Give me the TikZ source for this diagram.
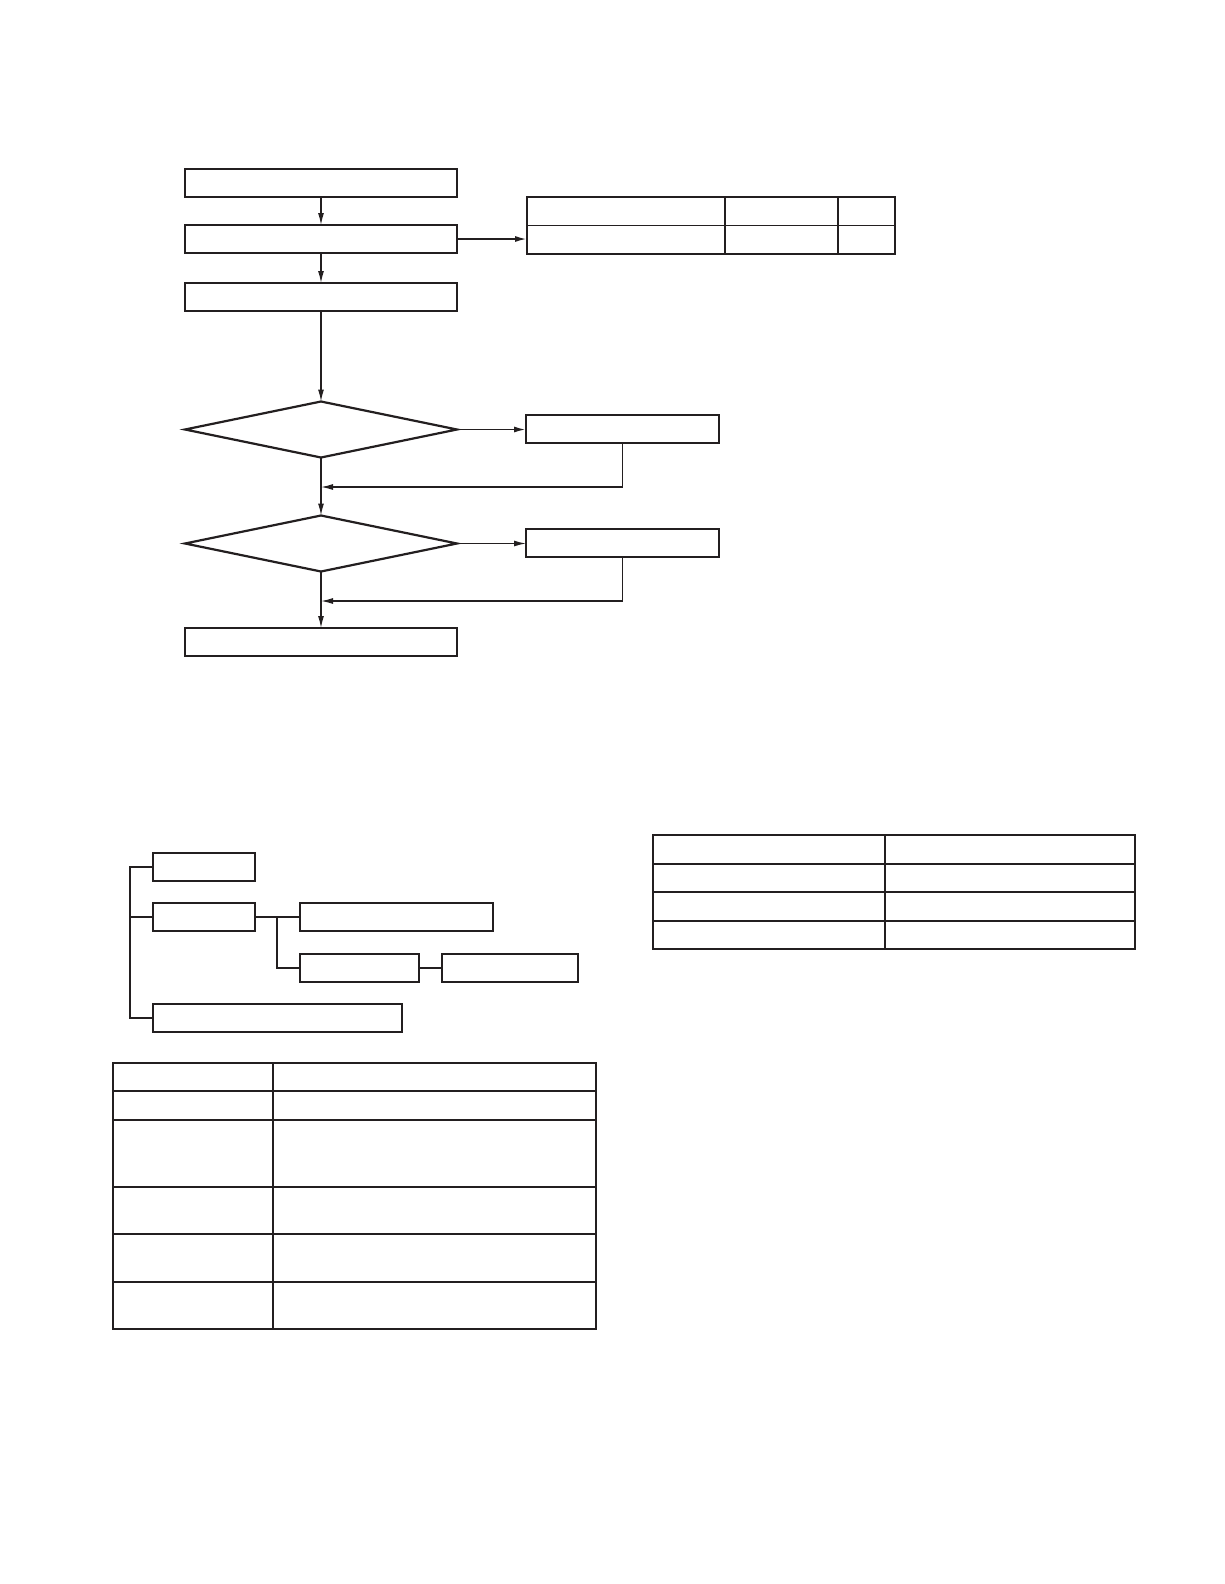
\documentclass[tikz,border=0pt]{standalone}
\usetikzlibrary{shapes.geometric,arrows.meta}
\definecolor{ink}{HTML}{231F20}
\tikzset{
  box/.style={draw=ink, line width=2.4pt, inner sep=0pt, outer sep=0pt, minimum height=28pt},
  dia/.style={draw=ink, diamond, line width=2.2pt, inner sep=0pt, outer sep=0pt, minimum width=272pt, minimum height=56pt},
  tab/.style={draw=ink, line width=2.6pt, inner sep=0pt, outer sep=0pt},
  flow/.style={draw=ink, line width=1.3pt, -{Latex[length=12pt,width=6pt]}},
  link/.style={draw=ink, line width=2pt},
  grid/.style={draw=ink, line width=1.5pt}
}
\begin{document}
\begin{tikzpicture}[x=1pt,y=-1pt]
\useasboundingbox (0,0) rectangle (1224,1584);
% flow chart
\node[box,minimum width=272pt] (top) at (321,183) {};
\node[box,minimum width=272pt] (mid) at (321,239) {};
\node[box,minimum width=272pt] (pre) at (321,297) {};
\node[dia] (askA) at (321,429.5) {};
\node[box,minimum width=193pt] (fixA) at (622.5,429) {};
\node[dia] (askB) at (321,543.5) {};
\node[box,minimum width=193pt] (fixB) at (622.5,543) {};
\node[box,minimum width=272pt] (done) at (321,642) {};
\node[tab,minimum width=368pt,minimum height=57pt] (tabTop) at (711,225.5) {};
\draw[grid] (tabTop.west) -- (tabTop.east);
\foreach \c in {198,311}
  \draw[ink,line width=2.4pt] ([xshift=\c pt]tabTop.north west) -- ([xshift=\c pt]tabTop.south west);
\coordinate (backA) at (321,487);
\coordinate (backB) at (321,601);
\draw[flow] (top) -- (mid);
\draw[flow] (mid) -- (pre);
\draw[flow] (pre) -- (askA);
\draw[flow] (askA) -- (askB);
\draw[flow] (askB) -- (done);
\draw[flow,line width=1.8pt] (mid.east) -- (mid.east -| tabTop.west);
\draw[flow,line width=1.8pt] (askA.east) -- (askA.east -| fixA.west);
\draw[flow] (askB.east) -- (askB.east -| fixB.west);
\draw[flow] (fixA.south) |- (backA);
\draw[flow] (fixB.south) |- (backB);
% tree
\coordinate (trunk) at (130,867);
\coordinate (fork) at (277,917);
\node[box,minimum width=102pt] (ta) at (204,867) {};
\node[box,minimum width=102pt] (tb) at (204,917) {};
\node[box,minimum width=193pt] (tc) at (396.5,917) {};
\node[box,minimum width=119pt] (te) at (359.5,968) {};
\node[box,minimum width=136pt] (tf) at (510,968) {};
\node[box,minimum width=249pt] (td) at (277.5,1018) {};
\draw[link] (ta.west) -- (ta.west -| trunk) |- (td.west);
\draw[link] (tb.west) -- (tb.west -| trunk);
\draw[grid] (tb) -- (tc);
\draw[link] (tc.west -| fork) |- (te.west);
\draw[grid] (te) -- (tf);
% tables
\node[tab,minimum width=483pt,minimum height=266pt] (tabL) at (354.5,1196) {};
\draw[grid] ([xshift=160pt]tabL.north west) -- ([xshift=160pt]tabL.south west);
\foreach \r in {28,57,124,171,219}
  \draw[grid] ([yshift=-\r pt]tabL.north west) -- ([yshift=-\r pt]tabL.north east);
\node[tab,minimum width=482pt,minimum height=114pt] (tabR) at (894,892) {};
\draw[grid] ([xshift=232pt]tabR.north west) -- ([xshift=232pt]tabR.south west);
\foreach \r in {29,57,86}
  \draw[grid] ([yshift=-\r pt]tabR.north west) -- ([yshift=-\r pt]tabR.north east);
\end{tikzpicture}
\end{document}
